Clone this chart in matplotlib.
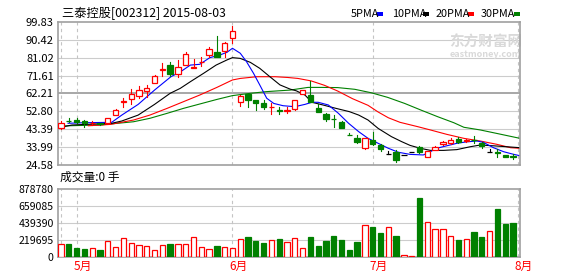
import matplotlib
matplotlib.use("Agg")
import matplotlib.pyplot as plt
from matplotlib.patches import Rectangle
from matplotlib.transforms import blended_transform_factory

plt.rcParams['font.family'] = ['Noto Sans CJK SC', 'DejaVu Sans']

# ── Data ──────────────────────────────────────────────────────────────────
title = "三泰控股[002312] 2015-08-03"
vol_title = "成交量:0 手"

opens  = [44.0, 48.0, 48.4, 47.8, 46.5, 46.5, 46.7, 51.1, 57.6, 59.1,
          61.0, 63.3, 67.9, 74.6, 77.1, 72.4, 77.1, 75.6, 78.5, 82.4,
          84.1, 84.6, 91.1, 57.6, 61.9, 58.6, 57.0, 54.9, 53.3, 52.8,
          53.9, 62.1, 61.4, 54.4, 51.3, 48.9, 47.4, 40.6, 39.0, 33.4,
          38.0, 35.2, 30.3, 31.4, 29.9, 31.7, 34.2, 28.9, 32.6, 35.6,
          36.1, 38.2, 37.3, 37.9, 36.4, 31.7, 31.4, 30.0, 29.3]
highs  = [48.0, 49.2, 49.5, 48.5, 47.6, 47.0, 49.5, 54.0, 59.7, 64.6,
          66.0, 66.6, 71.8, 78.0, 78.7, 80.0, 84.1, 80.1, 81.5, 86.7,
          92.3, 89.4, 97.6, 61.4, 62.0, 58.7, 58.8, 57.2, 55.3, 55.3,
          59.0, 64.0, 68.7, 56.5, 51.8, 50.9, 47.8, 41.3, 40.4, 38.8,
          41.8, 35.6, 32.0, 32.6, 29.9, 31.7, 34.7, 32.1, 34.8, 37.5,
          39.0, 39.3, 38.6, 40.1, 36.9, 33.1, 32.9, 30.0, 30.3]
lows   = [43.8, 47.1, 46.6, 44.6, 45.6, 45.8, 46.5, 50.8, 55.3, 56.5,
          60.0, 60.5, 67.5, 71.5, 71.2, 71.0, 77.0, 75.4, 76.6, 81.5,
          81.2, 81.5, 88.5, 55.8, 55.3, 53.5, 54.1, 51.5, 51.3, 52.0,
          53.5, 61.8, 57.6, 52.7, 47.8, 44.8, 43.9, 40.4, 36.3, 33.2,
          35.2, 32.0, 30.3, 26.5, 29.9, 31.7, 31.0, 28.9, 32.6, 35.0,
          35.8, 36.5, 36.6, 36.1, 33.8, 31.7, 29.1, 28.9, 27.9]
closes = [47.0, 47.9, 47.4, 46.8, 46.8, 46.2, 49.2, 53.7, 58.4, 61.8,
          63.9, 65.3, 71.2, 74.9, 72.4, 76.3, 82.7, 75.9, 78.9, 85.3,
          81.5, 88.5, 95.0, 60.9, 58.8, 57.4, 55.3, 55.1, 53.1, 53.4,
          58.8, 63.9, 57.6, 52.7, 48.7, 48.6, 44.3, 40.4, 36.6, 38.7,
          35.9, 33.1, 30.3, 27.5, 29.9, 31.7, 31.4, 32.1, 34.3, 37.0,
          38.0, 37.0, 37.6, 37.6, 34.7, 31.7, 31.1, 28.9, 29.0]
volumes = [161000, 165000, 113000, 100000, 109000, 87000, 204000, 122000, 239000, 178000,
           152000, 139000, 87000, 152000, 165000, 165000, 165000, 252000, 122000, 100000,
           139000, 122000, 109000, 226000, 257000, 204000, 178000, 218000, 231000, 191000,
           239000, 109000, 257000, 139000, 204000, 270000, 218000, 87000, 191000, 409000,
           387000, 309000, 383000, 270000, 17000, 9000, 766000, 448000, 357000, 357000,
           265000, 218000, 226000, 322000, 257000, 331000, 622000, 426000, 439000]

ma5_x = [0.9, 3.0, 6.5, 7.8, 9.9, 12.0, 14.1, 15.3, 16.6, 17.8, 19.1, 20.4, 21.3, 22.0,
         23.0, 23.8, 24.7, 25.5, 26.4, 27.3, 28.5, 30.0, 31.3, 32.2, 33.0, 34.3, 35.6,
         36.9, 38.2, 39.4, 40.7, 42.0, 43.3, 44.8, 46.5, 47.4, 48.2, 49.5, 50.8, 52.1,
         53.4, 54.2, 55.5, 56.8, 58.1, 58.9]
ma5_y = [46.6, 46.9, 47.1, 50.9, 56.5, 64.0, 71.0, 73.5, 77.1, 77.5, 81.0, 82.4, 83.8, 85.9,
         83.3, 78.9, 72.8, 66.7, 59.7, 57.0, 55.8, 55.3, 56.5, 57.6, 57.6, 56.2, 51.8,
         46.6, 42.2, 38.7, 36.1, 33.5, 31.4, 30.3, 30.0, 31.7, 33.5, 34.8, 36.1, 36.9,
         37.3, 36.6, 33.8, 31.7, 30.3, 29.6]
ma10_x = [0.1, 1.4, 6.5, 7.8, 9.9, 12.0, 14.0, 15.3, 16.6, 18.3, 19.9, 21.3, 22.0, 23.0,
          24.3, 25.5, 26.8, 28.1, 29.4, 30.2, 31.3, 32.2, 33.6, 35.3, 37.0, 38.2, 39.4,
          40.7, 42.4, 43.7, 44.8, 46.1, 47.4, 49.1, 50.8, 52.5, 53.8, 55.5, 57.2, 58.9]
ma10_y = [44.6, 45.7, 46.6, 47.8, 50.9, 56.5, 62.3, 64.9, 68.4, 72.8, 77.1, 79.8, 81.0, 80.6,
          78.5, 75.4, 71.0, 66.7, 64.5, 63.6, 61.4, 57.6, 56.2, 54.4, 52.7, 50.9, 48.3,
          43.9, 39.6, 37.0, 35.0, 33.5, 32.4, 32.4, 32.8, 34.3, 35.2, 34.8, 34.3, 33.8]
ma20_x = [3.5, 6.3, 9.3, 11.4, 13.6, 15.7, 17.8, 20.0, 22.0, 23.0, 25.1, 27.5, 29.1, 30.4,
          32.1, 33.8, 35.5, 37.4, 39.4, 40.7, 42.0, 43.5, 45.8, 47.4, 49.5, 51.7, 53.8,
          55.9, 57.7, 58.9]
ma20_y = [45.3, 46.0, 48.3, 50.9, 54.4, 57.9, 61.4, 65.4, 69.3, 70.1, 71.0, 71.0, 70.6, 70.1,
          68.8, 66.5, 63.5, 59.5, 56.0, 52.5, 49.5, 47.1, 44.8, 43.1, 40.8, 38.7, 37.3,
          35.6, 33.8, 33.5]
ma30_x = [0.0, 5.0, 9.3, 11.4, 13.6, 15.7, 17.8, 20.0, 22.0, 24.3, 26.4, 29.4, 31.7, 33.4,
          35.5, 37.7, 39.8, 41.9, 44.1, 46.2, 48.3, 50.4, 51.7, 53.8, 55.9, 58.9]
ma30_y = [45.2, 45.7, 47.4, 49.2, 51.8, 54.4, 56.7, 59.1, 61.1, 62.3, 63.2, 64.0, 65.4, 65.4,
          65.3, 64.4, 62.6, 60.2, 57.0, 53.5, 50.1, 46.9, 44.5, 43.1, 41.3, 38.7]

price_ticks = [24.58, 33.99, 43.39, 52.80, 62.21, 71.61, 81.02, 90.42, 99.83]
price_labels = ["24.58", "33.99", "43.39", "52.80", "62.21", "71.61", "81.02", "90.42", "99.83"]
vol_ticks = [0, 219695, 439390, 659085, 878780]
vol_labels = ["0", "219695", "439390", "659085", "878780"]
month_pos = [2, 22, 40, 58.6]
month_labels = ["5月", "6月", "7月", "8月"]
legend_labels = ["5PMA", "10PMA", "20PMA", "30PMA"]

RED, GREEN, BLUE = "#ff0000", "#008000", "#0000ff"
GRID, BORDER = "#cccccc", "#a0a0a0"
W, H = 578, 276

fig = plt.figure(figsize=(W / 100, H / 100), dpi=100)
ax = fig.add_axes([58 / W, 1 - 165.3 / H, 462 / W, 143.6 / H])
axv = fig.add_axes([58 / W, 1 - 256.7 / H, 462 / W, 67.4 / H])

xlim = (-0.39, 58.9)
vlines_at = [0] + month_pos

# ── Price panel ─────────────────────────────────────────────────────────────
for p in price_ticks[1:-1]:
    mid = abs(p - 62.21) < 0.01
    ax.axhline(p, color=BORDER if mid else GRID, lw=1.3 if mid else 0.8, zorder=0)
for xv in vlines_at:
    ax.axvline(xv, color="#c4c4c4", lw=0.8, ls=(0, (3, 3)), zorder=0)

bw = 0.68
for i in range(len(opens)):
    o, h, l, c = opens[i], highs[i], lows[i], closes[i]
    col = RED if c > o else (GREEN if c < o else "black")
    ax.plot([i, i], [l, min(o, c)], color=col, lw=0.8, zorder=3)
    ax.plot([i, i], [max(o, c), h], color=col, lw=0.8, zorder=3)
    face = "white" if c > o else col
    ax.add_patch(Rectangle((i - bw / 2, min(o, c)), bw, abs(c - o),
                           facecolor=face, edgecolor=col, lw=0.9, zorder=4))

ax.plot(ma30_x, ma30_y, color=GREEN, lw=0.8, zorder=2)
ax.plot(ma20_x, ma20_y, color=RED, lw=0.8, zorder=2)
ax.plot(ma10_x, ma10_y, color="black", lw=0.8, zorder=2)
ax.plot(ma5_x, ma5_y, color=BLUE, lw=0.8, zorder=2)

ax.set_xlim(*xlim)
ax.set_ylim(price_ticks[0], price_ticks[-1])
ax.set_yticks(price_ticks)
ax.set_yticklabels(price_labels, fontsize=8)
ax.set_xticks([])
ax.tick_params(axis="y", length=0, pad=3)
for s in ax.spines.values():
    s.set_color(BORDER)
    s.set_linewidth(1.2)

# watermark
ax.text(0.925, 0.86, "东方财富网", transform=ax.transAxes, fontsize=10.5, fontweight="bold",
        color="#d9d9d9", ha="center", va="center", zorder=1)
ax.text(0.925, 0.77, "eastmoney.com", transform=ax.transAxes, fontsize=6.5, fontweight="bold",
        color="#d9d9d9", ha="center", va="center", zorder=1)

# ── Volume panel ────────────────────────────────────────────────────────────
for v in vol_ticks[1:-1]:
    axv.axhline(v, color=GRID, lw=0.8, zorder=0)
for xv in vlines_at:
    axv.axvline(xv, color="#c4c4c4", lw=0.8, ls=(0, (3, 3)), zorder=0)

for i in range(len(volumes)):
    down = closes[i] < opens[i]
    col = GREEN if down else RED
    axv.add_patch(Rectangle((i - bw / 2, 0), bw, volumes[i],
                            facecolor=col if down else "white", edgecolor=col, lw=0.9, zorder=3))

axv.set_xlim(*xlim)
axv.set_ylim(vol_ticks[0], vol_ticks[-1])
axv.set_yticks(vol_ticks)
axv.set_yticklabels(vol_labels, fontsize=7.6)
axv.set_xticks([])
axv.tick_params(axis="y", length=0, pad=3)
for s in axv.spines.values():
    s.set_color(BORDER)
    s.set_linewidth(1.2)

tr = blended_transform_factory(axv.transData, axv.transAxes)
for pos, lab in zip(month_pos, month_labels):
    axv.text(pos - 0.4, -0.15, lab, transform=tr, color=RED, fontsize=8.5,
             ha="left", va="center")

# ── Header texts ────────────────────────────────────────────────────────────
fig.text(62 / W, 1 - 13 / H, title, fontsize=8.8, ha="left", va="center")
fig.text(60 / W, 1 - 177 / H, vol_title, fontsize=8.5, ha="left", va="center")

leg_x = [351, 392, 436, 481]
dash_x = [377, 423, 468, 514]
leg_cols = [BLUE, "black", RED, GREEN]
for lx, dx, lab, col in zip(leg_x, dash_x, legend_labels, leg_cols):
    fig.text(lx / W, 1 - 14 / H, lab, fontsize=7.8, ha="left", va="center")
    fig.add_artist(Rectangle((dx / W, 1 - 15.5 / H), 6 / W, 3 / H,
                             transform=fig.transFigure, facecolor=col, edgecolor="none"))

fig.savefig("out.png", dpi=100)
